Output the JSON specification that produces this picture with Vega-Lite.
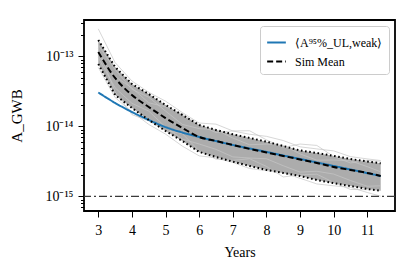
{
  "$schema": "https://vega.github.io/schema/vega-lite/v6.json",
  "width": 311,
  "height": 191,
  "autosize": {"type": "none"},
  "padding": {"left": 84, "top": 20, "right": 20, "bottom": 61},
  "config": {
    "view": {"stroke": "#000000", "strokeWidth": 1.8},
    "font": "Liberation Serif",
    "axis": {"domain": false, "grid": false, "tickColor": "#000000", "labelColor": "#000000", "titleColor": "#000000", "titleFontWeight": "normal", "labelFont": "Liberation Serif", "titleFont": "Liberation Serif", "labelFontSize": 14, "titleFontSize": 14, "labelOverlap": false, "tickWidth": 1},
    "legend": {"labelFont": "Liberation Serif", "labelColor": "#000000", "labelFontSize": 12, "orient": "top-right", "offset": 6, "strokeColor": "#cccccc", "fillColor": "#ffffff", "padding": 6, "cornerRadius": 3, "symbolStrokeWidth": 2, "symbolSize": 350, "rowPadding": 2, "symbolType": "stroke", "labelOffset": 8}
  },
  "datasets": {
    "band": [
      {"x": 3, "upper": 1.72e-13, "lower": 7.82e-14},
      {"x": 3.5, "upper": 7.08e-14, "lower": 2.82e-14},
      {"x": 4, "upper": 4.05e-14, "lower": 1.84e-14},
      {"x": 4.5, "upper": 2.91e-14, "lower": 1.24e-14},
      {"x": 5, "upper": 2.03e-14, "lower": 8.63e-15},
      {"x": 5.5, "upper": 1.46e-14, "lower": 6.21e-15},
      {"x": 6, "upper": 1.05e-14, "lower": 4.33e-15},
      {"x": 6.5, "upper": 8.91e-15, "lower": 3.66e-15},
      {"x": 7, "upper": 7.74e-15, "lower": 3.14e-15},
      {"x": 7.5, "upper": 6.86e-15, "lower": 2.73e-15},
      {"x": 8, "upper": 6.07e-15, "lower": 2.39e-15},
      {"x": 8.5, "upper": 5.26e-15, "lower": 2.17e-15},
      {"x": 9, "upper": 4.54e-15, "lower": 1.96e-15},
      {"x": 9.5, "upper": 4.18e-15, "lower": 1.72e-15},
      {"x": 10, "upper": 3.79e-15, "lower": 1.55e-15},
      {"x": 10.5, "upper": 3.43e-15, "lower": 1.41e-15},
      {"x": 11, "upper": 3.16e-15, "lower": 1.28e-15},
      {"x": 11.4, "upper": 2.98e-15, "lower": 1.21e-15}
    ],
    "sims": [
      {"sim": "A", "x": 3, "v": 2.48e-13}, {"sim": "A", "x": 3.5, "v": 8.18e-14}, {"sim": "A", "x": 4, "v": 4.47e-14}, {"sim": "A", "x": 4.5, "v": 3.08e-14}, {"sim": "A", "x": 5, "v": 2.30e-14}, {"sim": "A", "x": 5.5, "v": 1.58e-14}, {"sim": "A", "x": 6, "v": 1.12e-14}, {"sim": "A", "x": 6.5, "v": 1.08e-14}, {"sim": "A", "x": 7, "v": 8.63e-15}, {"sim": "A", "x": 7.5, "v": 7.74e-15}, {"sim": "A", "x": 8, "v": 7.23e-15}, {"sim": "A", "x": 8.5, "v": 6.30e-15}, {"sim": "A", "x": 9, "v": 5.12e-15}, {"sim": "A", "x": 9.5, "v": 4.78e-15}, {"sim": "A", "x": 10, "v": 4.48e-15}, {"sim": "A", "x": 10.5, "v": 3.71e-15}, {"sim": "A", "x": 11, "v": 3.44e-15}, {"sim": "A", "x": 11.4, "v": 3.26e-15},
      {"sim": "B", "x": 3, "v": 6.98e-14}, {"sim": "B", "x": 3.5, "v": 2.59e-14}, {"sim": "B", "x": 4, "v": 1.62e-14}, {"sim": "B", "x": 4.5, "v": 1.07e-14}, {"sim": "B", "x": 5, "v": 7.78e-15}, {"sim": "B", "x": 5.5, "v": 5.24e-15}, {"sim": "B", "x": 6, "v": 3.80e-15}, {"sim": "B", "x": 6.5, "v": 3.57e-15}, {"sim": "B", "x": 7, "v": 3.06e-15}, {"sim": "B", "x": 7.5, "v": 2.51e-15}, {"sim": "B", "x": 8, "v": 2.34e-15}, {"sim": "B", "x": 8.5, "v": 2.18e-15}, {"sim": "B", "x": 9, "v": 1.82e-15}, {"sim": "B", "x": 9.5, "v": 1.51e-15}, {"sim": "B", "x": 10, "v": 1.42e-15}, {"sim": "B", "x": 10.5, "v": 1.35e-15}, {"sim": "B", "x": 11, "v": 1.14e-15}, {"sim": "B", "x": 11.4, "v": 1.01e-15},
      {"sim": "C", "x": 3, "v": 1.46e-13}, {"sim": "C", "x": 3.5, "v": 6.50e-14}, {"sim": "C", "x": 4, "v": 3.39e-14}, {"sim": "C", "x": 4.5, "v": 2.62e-14}, {"sim": "C", "x": 5, "v": 1.66e-14}, {"sim": "C", "x": 5.5, "v": 1.07e-14}, {"sim": "C", "x": 6, "v": 9.33e-15}, {"sim": "C", "x": 6.5, "v": 8.97e-15}, {"sim": "C", "x": 7, "v": 6.85e-15}, {"sim": "C", "x": 7.5, "v": 5.48e-15}, {"sim": "C", "x": 8, "v": 5.61e-15}, {"sim": "C", "x": 8.5, "v": 5.36e-15}, {"sim": "C", "x": 9, "v": 4.06e-15}, {"sim": "C", "x": 9.5, "v": 3.30e-15}, {"sim": "C", "x": 10, "v": 3.32e-15}, {"sim": "C", "x": 10.5, "v": 3.23e-15}, {"sim": "C", "x": 11, "v": 2.67e-15}, {"sim": "C", "x": 11.4, "v": 2.25e-15},
      {"sim": "D", "x": 3, "v": 9.64e-14}, {"sim": "D", "x": 3.5, "v": 3.57e-14}, {"sim": "D", "x": 4, "v": 2.14e-14}, {"sim": "D", "x": 4.5, "v": 1.66e-14}, {"sim": "D", "x": 5, "v": 9.79e-15}, {"sim": "D", "x": 5.5, "v": 6.59e-15}, {"sim": "D", "x": 6, "v": 5.62e-15}, {"sim": "D", "x": 6.5, "v": 4.71e-15}, {"sim": "D", "x": 7, "v": 3.68e-15}, {"sim": "D", "x": 7.5, "v": 3.54e-15}, {"sim": "D", "x": 8, "v": 3.46e-15}, {"sim": "D", "x": 8.5, "v": 2.75e-15}, {"sim": "D", "x": 9, "v": 2.23e-15}, {"sim": "D", "x": 9.5, "v": 2.29e-15}, {"sim": "D", "x": 10, "v": 2.09e-15}, {"sim": "D", "x": 10.5, "v": 1.69e-15}, {"sim": "D", "x": 11, "v": 1.40e-15}, {"sim": "D", "x": 11.4, "v": 1.42e-15},
      {"sim": "E", "x": 3, "v": 1.03e-13}, {"sim": "E", "x": 3.5, "v": 5.16e-14}, {"sim": "E", "x": 4, "v": 3.55e-14}, {"sim": "E", "x": 4.5, "v": 2.18e-14}, {"sim": "E", "x": 5, "v": 1.91e-14}, {"sim": "E", "x": 5.5, "v": 1.51e-14}, {"sim": "E", "x": 6, "v": 1.05e-14}, {"sim": "E", "x": 6.5, "v": 8.18e-15}, {"sim": "E", "x": 7, "v": 8.63e-15}, {"sim": "E", "x": 7.5, "v": 8.69e-15}, {"sim": "E", "x": 8, "v": 6.44e-15}, {"sim": "E", "x": 8.5, "v": 5.00e-15}, {"sim": "E", "x": 9, "v": 5.61e-15}, {"sim": "E", "x": 9.5, "v": 5.36e-15}, {"sim": "E", "x": 10, "v": 3.72e-15}, {"sim": "E", "x": 10.5, "v": 3.01e-15}, {"sim": "E", "x": 11, "v": 3.28e-15}, {"sim": "E", "x": 11.4, "v": 3.18e-15},
      {"sim": "F", "x": 3, "v": 1.30e-13}, {"sim": "F", "x": 3.5, "v": 3.11e-14}, {"sim": "F", "x": 4, "v": 1.48e-14}, {"sim": "F", "x": 4.5, "v": 1.20e-14}, {"sim": "F", "x": 5, "v": 8.73e-15}, {"sim": "F", "x": 5.5, "v": 7.92e-15}, {"sim": "F", "x": 6, "v": 4.47e-15}, {"sim": "F", "x": 6.5, "v": 3.41e-15}, {"sim": "F", "x": 7, "v": 3.28e-15}, {"sim": "F", "x": 7.5, "v": 3.46e-15}, {"sim": "F", "x": 8, "v": 2.69e-15}, {"sim": "F", "x": 8.5, "v": 1.90e-15}, {"sim": "F", "x": 9, "v": 2.04e-15}, {"sim": "F", "x": 9.5, "v": 2.08e-15}, {"sim": "F", "x": 10, "v": 1.59e-15}, {"sim": "F", "x": 10.5, "v": 1.26e-15}, {"sim": "F", "x": 11, "v": 1.25e-15}, {"sim": "F", "x": 11.4, "v": 1.24e-15}
    ],
    "curves": [
      {"series": "⟨A⁹⁵%_UL,weak⟩", "x": 3, "v": 3.06e-14},
      {"series": "⟨A⁹⁵%_UL,weak⟩", "x": 3.5, "v": 2.17e-14},
      {"series": "⟨A⁹⁵%_UL,weak⟩", "x": 4, "v": 1.61e-14},
      {"series": "⟨A⁹⁵%_UL,weak⟩", "x": 4.5, "v": 1.24e-14},
      {"series": "⟨A⁹⁵%_UL,weak⟩", "x": 5, "v": 9.8e-15},
      {"series": "⟨A⁹⁵%_UL,weak⟩", "x": 5.5, "v": 8.2e-15},
      {"series": "⟨A⁹⁵%_UL,weak⟩", "x": 6, "v": 7.08e-15},
      {"series": "⟨A⁹⁵%_UL,weak⟩", "x": 7, "v": 5.44e-15},
      {"series": "⟨A⁹⁵%_UL,weak⟩", "x": 8, "v": 4.33e-15},
      {"series": "⟨A⁹⁵%_UL,weak⟩", "x": 9, "v": 3.43e-15},
      {"series": "⟨A⁹⁵%_UL,weak⟩", "x": 10, "v": 2.73e-15},
      {"series": "⟨A⁹⁵%_UL,weak⟩", "x": 11.4, "v": 1.96e-15},
      {"series": "Sim Mean", "x": 3, "v": 1.159e-13},
      {"series": "Sim Mean", "x": 3.5, "v": 4.93e-14},
      {"series": "Sim Mean", "x": 4, "v": 2.82e-14},
      {"series": "Sim Mean", "x": 4.5, "v": 1.90e-14},
      {"series": "Sim Mean", "x": 5, "v": 1.32e-14},
      {"series": "Sim Mean", "x": 5.5, "v": 9.53e-15},
      {"series": "Sim Mean", "x": 6, "v": 7.08e-15},
      {"series": "Sim Mean", "x": 6.5, "v": 6.21e-15},
      {"series": "Sim Mean", "x": 7, "v": 5.44e-15},
      {"series": "Sim Mean", "x": 7.5, "v": 4.78e-15},
      {"series": "Sim Mean", "x": 8, "v": 4.26e-15},
      {"series": "Sim Mean", "x": 8.5, "v": 3.79e-15},
      {"series": "Sim Mean", "x": 9, "v": 3.38e-15},
      {"series": "Sim Mean", "x": 9.5, "v": 3.01e-15},
      {"series": "Sim Mean", "x": 10, "v": 2.64e-15},
      {"series": "Sim Mean", "x": 10.5, "v": 2.39e-15},
      {"series": "Sim Mean", "x": 11, "v": 2.17e-15},
      {"series": "Sim Mean", "x": 11.4, "v": 1.96e-15}
    ],
    "floor": [{"level": 1e-15}]
  },
  "layer": [
    {
      "data": {"name": "band"},
      "mark": {"type": "area", "color": "#a3a3a3", "opacity": 0.9},
      "encoding": {
        "x": {"field": "x", "type": "quantitative", "scale": {"domain": [2.575, 11.825], "nice": false, "zero": false},
              "axis": {"values": [3, 4, 5, 6, 7, 8, 9, 10, 11], "title": "Years", "tickSize": 6, "labelPadding": 6, "titlePadding": 8, "labelFlush": false, "labelOverlap": false}},
        "y": {"field": "upper", "type": "quantitative", "scale": {"type": "log", "domain": [6.2e-16, 3.32e-13], "nice": false},
              "axis": {"values": [7e-16, 8e-16, 9e-16, 1e-15, 2e-15, 3e-15, 4e-15, 5e-15, 6e-15, 7e-15, 8e-15, 9e-15, 1e-14, 2e-14, 3e-14, 4e-14, 5e-14, 6e-14, 7e-14, 8e-14, 9e-14, 1e-13, 2e-13, 3e-13],
                       "labelExpr": "datum.value == 1e-15 ? '10⁻¹⁵' : (datum.value == 1e-14 ? '10⁻¹⁴' : (datum.value == 1e-13 ? '10⁻¹³' : ''))",
                       "tickSize": {"condition": {"test": "datum.value == 1e-15 || datum.value == 1e-14 || datum.value == 1e-13", "value": 6}, "value": 3.5},
                       "title": "A_GWB", "titleFontSize": 15, "labelPadding": 5, "titlePadding": 20, "labelOverlap": false}},
        "y2": {"field": "lower"}
      }
    },
    {
      "data": {"name": "sims"},
      "mark": {"type": "line", "stroke": "#c6c6c6", "strokeWidth": 0.7},
      "encoding": {
        "x": {"field": "x", "type": "quantitative",
              "axis": {"values": [3, 4, 5, 6, 7, 8, 9, 10, 11], "title": "Years", "tickSize": 6, "labelPadding": 6, "titlePadding": 8, "labelFlush": false, "labelOverlap": false}},
        "y": {"field": "v", "type": "quantitative",
              "axis": {"values": [7e-16, 8e-16, 9e-16, 1e-15, 2e-15, 3e-15, 4e-15, 5e-15, 6e-15, 7e-15, 8e-15, 9e-15, 1e-14, 2e-14, 3e-14, 4e-14, 5e-14, 6e-14, 7e-14, 8e-14, 9e-14, 1e-13, 2e-13, 3e-13],
                       "labelExpr": "datum.value == 1e-15 ? '10⁻¹⁵' : (datum.value == 1e-14 ? '10⁻¹⁴' : (datum.value == 1e-13 ? '10⁻¹³' : ''))",
                       "tickSize": {"condition": {"test": "datum.value == 1e-15 || datum.value == 1e-14 || datum.value == 1e-13", "value": 6}, "value": 3.5},
                       "title": "A_GWB", "titleFontSize": 15, "labelPadding": 5, "titlePadding": 20, "labelOverlap": false}},
        "detail": {"field": "sim"}
      }
    },
    {
      "data": {"name": "floor"},
      "mark": {"type": "rule", "stroke": "#3a3a3a", "strokeWidth": 1.2, "strokeDash": [8, 3, 2, 3]},
      "encoding": {
        "y": {"field": "level", "type": "quantitative",
              "axis": {"values": [7e-16, 8e-16, 9e-16, 1e-15, 2e-15, 3e-15, 4e-15, 5e-15, 6e-15, 7e-15, 8e-15, 9e-15, 1e-14, 2e-14, 3e-14, 4e-14, 5e-14, 6e-14, 7e-14, 8e-14, 9e-14, 1e-13, 2e-13, 3e-13],
                       "labelExpr": "datum.value == 1e-15 ? '10⁻¹⁵' : (datum.value == 1e-14 ? '10⁻¹⁴' : (datum.value == 1e-13 ? '10⁻¹³' : ''))",
                       "tickSize": {"condition": {"test": "datum.value == 1e-15 || datum.value == 1e-14 || datum.value == 1e-13", "value": 6}, "value": 3.5},
                       "title": "A_GWB", "titleFontSize": 15, "labelPadding": 5, "titlePadding": 20, "labelOverlap": false}}
      }
    },
    {
      "data": {"name": "curves"},
      "mark": {"type": "line", "strokeWidth": 2, "interpolate": "monotone"},
      "encoding": {
        "x": {"field": "x", "type": "quantitative",
              "axis": {"values": [3, 4, 5, 6, 7, 8, 9, 10, 11], "title": "Years", "tickSize": 6, "labelPadding": 6, "titlePadding": 8, "labelFlush": false, "labelOverlap": false}},
        "y": {"field": "v", "type": "quantitative",
              "axis": {"values": [7e-16, 8e-16, 9e-16, 1e-15, 2e-15, 3e-15, 4e-15, 5e-15, 6e-15, 7e-15, 8e-15, 9e-15, 1e-14, 2e-14, 3e-14, 4e-14, 5e-14, 6e-14, 7e-14, 8e-14, 9e-14, 1e-13, 2e-13, 3e-13],
                       "labelExpr": "datum.value == 1e-15 ? '10⁻¹⁵' : (datum.value == 1e-14 ? '10⁻¹⁴' : (datum.value == 1e-13 ? '10⁻¹³' : ''))",
                       "tickSize": {"condition": {"test": "datum.value == 1e-15 || datum.value == 1e-14 || datum.value == 1e-13", "value": 6}, "value": 3.5},
                       "title": "A_GWB", "titleFontSize": 15, "labelPadding": 5, "titlePadding": 20, "labelOverlap": false}},
        "color": {"field": "series", "type": "nominal", "sort": null,
                  "scale": {"domain": ["⟨A⁹⁵%_UL,weak⟩", "Sim Mean"], "range": ["#1f77b4", "#000000"]},
                  "legend": {"title": null}},
        "strokeDash": {"field": "series", "type": "nominal", "sort": null,
                       "scale": {"domain": ["⟨A⁹⁵%_UL,weak⟩", "Sim Mean"], "range": [[1, 0], [6, 3]]},
                       "legend": {"title": null}}
      }
    },
    {
      "data": {"name": "band"},
      "mark": {"type": "line", "stroke": "black", "strokeWidth": 2, "strokeDash": [1.6, 2.6]},
      "encoding": {
        "x": {"field": "x", "type": "quantitative",
              "axis": {"values": [3, 4, 5, 6, 7, 8, 9, 10, 11], "title": "Years", "tickSize": 6, "labelPadding": 6, "titlePadding": 8, "labelFlush": false, "labelOverlap": false}},
        "y": {"field": "upper", "type": "quantitative",
              "axis": {"values": [7e-16, 8e-16, 9e-16, 1e-15, 2e-15, 3e-15, 4e-15, 5e-15, 6e-15, 7e-15, 8e-15, 9e-15, 1e-14, 2e-14, 3e-14, 4e-14, 5e-14, 6e-14, 7e-14, 8e-14, 9e-14, 1e-13, 2e-13, 3e-13],
                       "labelExpr": "datum.value == 1e-15 ? '10⁻¹⁵' : (datum.value == 1e-14 ? '10⁻¹⁴' : (datum.value == 1e-13 ? '10⁻¹³' : ''))",
                       "tickSize": {"condition": {"test": "datum.value == 1e-15 || datum.value == 1e-14 || datum.value == 1e-13", "value": 6}, "value": 3.5},
                       "title": "A_GWB", "titleFontSize": 15, "labelPadding": 5, "titlePadding": 20, "labelOverlap": false}}
      }
    },
    {
      "data": {"name": "band"},
      "mark": {"type": "line", "stroke": "black", "strokeWidth": 2, "strokeDash": [1.6, 2.6]},
      "encoding": {
        "x": {"field": "x", "type": "quantitative",
              "axis": {"values": [3, 4, 5, 6, 7, 8, 9, 10, 11], "title": "Years", "tickSize": 6, "labelPadding": 6, "titlePadding": 8, "labelFlush": false, "labelOverlap": false}},
        "y": {"field": "lower", "type": "quantitative",
              "axis": {"values": [7e-16, 8e-16, 9e-16, 1e-15, 2e-15, 3e-15, 4e-15, 5e-15, 6e-15, 7e-15, 8e-15, 9e-15, 1e-14, 2e-14, 3e-14, 4e-14, 5e-14, 6e-14, 7e-14, 8e-14, 9e-14, 1e-13, 2e-13, 3e-13],
                       "labelExpr": "datum.value == 1e-15 ? '10⁻¹⁵' : (datum.value == 1e-14 ? '10⁻¹⁴' : (datum.value == 1e-13 ? '10⁻¹³' : ''))",
                       "tickSize": {"condition": {"test": "datum.value == 1e-15 || datum.value == 1e-14 || datum.value == 1e-13", "value": 6}, "value": 3.5},
                       "title": "A_GWB", "titleFontSize": 15, "labelPadding": 5, "titlePadding": 20, "labelOverlap": false}}
      }
    }
  ]
}
